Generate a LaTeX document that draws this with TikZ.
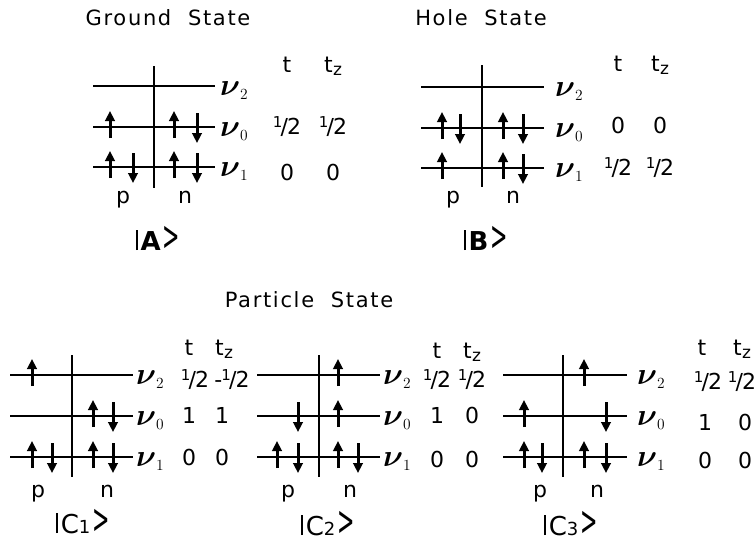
\RequirePackage{fix-cm}
\documentclass[tikz,border=0pt]{standalone}
\usepackage{amsmath}
\usepackage{fontspec}
\setmainfont{DejaVu Sans}
\usetikzlibrary{arrows.meta}
\newcommand\hf{\raisebox{0.55ex}{\fontsize{15}{15}\selectfont 1}\kern-0.08em/\kern-0.04em2}
\newcommand\tz{t\kern0.02em\raisebox{-0.25ex}{\fontsize{17}{17}\selectfont z}}
\newcommand\ketx[1]{\rule{1.7pt}{20pt}\kern3pt{#1}\kern2pt\scalebox{0.8}[1.6]{\textgreater}}
\newcommand\nl[1]{$\boldsymbol{\nu}_{\scriptscriptstyle #1}$}
\newcommand\upsp[2]{\draw[spin] (#1,#2+11) -- (#1,#2-16);}
\newcommand\dnsp[2]{\draw[spin] (#1,#2-14) -- (#1,#2+16);}
\tikzset{
  x=1pt, y=-1pt,
  level/.style={line width=2.6pt},
  divider/.style={line width=2.4pt},
  spin/.style={line width=3pt, -{Triangle[length=10pt,width=9.5pt]}},
  txt/.style={font=\fontsize{22}{22}\selectfont, inner sep=0pt, anchor=base},
  title/.style={font=\addfontfeature{LetterSpace=8}\fontsize{21}{21}\selectfont, inner sep=0pt, anchor=base},
  nulab/.style={font=\fontsize{31}{31}\selectfont, inner sep=0pt, anchor=base west},
  ket/.style={font=\fontsize{26}{26}\selectfont, inner sep=0pt, anchor=base},
}
\begin{document}
\begin{tikzpicture}
\useasboundingbox[fill=white] (0,0) rectangle (756,550);

% ---------- Panel A ----------
\node[title] (tA) at (168,25) {Ground\ \ State};
\draw[level] (93,86) -- (215,86);
\draw[level] (93,127) -- (215,127);
\draw[level] (93,167) -- (215,167);
\draw[divider] (154,66) -- (154,188);
\node[nulab] (A2) at (220,95) {\nl{2}};
\node[nulab] (A0) at (220,136) {\nl{0}};
\node[nulab] (A1) at (220,176) {\nl{1}};
\upsp{110}{127} \upsp{174}{127} \dnsp{197}{127}
\upsp{110}{167} \dnsp{133}{167} \upsp{174}{167} \dnsp{197}{167}
\node[txt] (At) at (287,72) {t};
\node[txt] (Atz) at (333,72) {\tz};
\node[txt] (Av1) at (287,134) {\hf};
\node[txt] (Av2) at (333,134) {\hf};
\node[txt] (Av3) at (287,180) {0};
\node[txt] (Av4) at (333,180) {0};
\node[txt] (Ap) at (123,203) {p};
\node[txt] (An) at (185,203) {n};
\node[ket] (Ak) at (158,250) {\ketx{\bfseries A}};

% ---------- Panel B ----------
\node[title] (tB) at (481,25) {Hole\ \ State};
\draw[level] (421,87) -- (544,87);
\draw[level] (421,128) -- (544,128);
\draw[level] (421,168) -- (544,168);
\draw[divider] (482,65) -- (482,187);
\node[nulab] (B2) at (555,96) {\nl{2}};
\node[nulab] (B0) at (555,137) {\nl{0}};
\node[nulab] (B1) at (555,177) {\nl{1}};
\upsp{442}{128} \dnsp{460}{128} \upsp{503}{128} \dnsp{523}{128}
\upsp{442}{168} \upsp{503}{168} \dnsp{523}{168}
\node[txt] (Bt) at (618,71) {t};
\node[txt] (Btz) at (660,71) {\tz};
\node[txt] (Bv1) at (618,133) {0};
\node[txt] (Bv2) at (660,133) {0};
\node[txt] (Bv3) at (618,175) {\hf};
\node[txt] (Bv4) at (660,175) {\hf};
\node[txt] (Bp) at (453,203) {p};
\node[txt] (Bn) at (513,203) {n};
\node[ket] (Bk) at (486,250) {\ketx{\bfseries B}};

% ---------- Particle State ----------
\node[title] (tC) at (309,307) {Particle\ \ State};

% C1
\draw[level] (10,375) -- (133,375);
\draw[level] (10,416) -- (133,416);
\draw[level] (10,457) -- (133,457);
\draw[divider] (72,355) -- (72,477);
\node[nulab] (C12) at (136,384) {\nl{2}};
\node[nulab] (C10) at (136,425) {\nl{0}};
\node[nulab] (C11) at (136,466) {\nl{1}};
\upsp{32}{375}
\upsp{93}{416} \dnsp{113}{416}
\upsp{32}{457} \dnsp{52}{457} \upsp{93}{457} \dnsp{113}{457}
\node[txt] (C1t) at (189,355) {t};
\node[txt] (C1tz) at (224,355) {\tz};
\node[txt] (C1v1) at (195,387) {\hf};
\node[txt] (C1v2) at (232,387) {-\kern-0.05em\hf};
\node[txt] (C1v3) at (189,423) {1};
\node[txt] (C1v4) at (222,423) {1};
\node[txt] (C1v5) at (189,465) {0};
\node[txt] (C1v6) at (222,465) {0};
\node[txt] (C1p) at (38,497) {p};
\node[txt] (C1n) at (107,497) {n};
\node[ket] (C1k) at (83,533) {\ketx{C{\fontsize{18}{18}\selectfont 1}}};

% C2
\draw[level] (257,375) -- (380,375);
\draw[level] (257,416) -- (380,416);
\draw[level] (257,457) -- (380,457);
\draw[divider] (319,355) -- (319,477);
\node[nulab] (C22) at (383,384) {\nl{2}};
\node[nulab] (C20) at (383,425) {\nl{0}};
\node[nulab] (C21) at (383,466) {\nl{1}};
\upsp{338}{375}
\dnsp{298}{416} \upsp{338}{416}
\upsp{277}{457} \dnsp{298}{457} \upsp{338}{457} \dnsp{358}{457}
\node[txt] (C2t) at (437,358) {t};
\node[txt] (C2tz) at (472,358) {\tz};
\node[txt] (C2v1) at (437,387) {\hf};
\node[txt] (C2v2) at (472,387) {\hf};
\node[txt] (C2v3) at (437,423) {1};
\node[txt] (C2v4) at (472,423) {0};
\node[txt] (C2v5) at (437,467) {0};
\node[txt] (C2v6) at (472,467) {0};
\node[txt] (C2p) at (288,497) {p};
\node[txt] (C2n) at (350,497) {n};
\node[ket] (C2k) at (328,535) {\ketx{C{\fontsize{18}{18}\selectfont 2}}};

% C3
\draw[level] (503,375) -- (627,375);
\draw[level] (503,416) -- (627,416);
\draw[level] (503,457) -- (627,457);
\draw[divider] (563,355) -- (563,477);
\node[nulab] (C32) at (637,384) {\nl{2}};
\node[nulab] (C30) at (637,425) {\nl{0}};
\node[nulab] (C31) at (637,466) {\nl{1}};
\upsp{584}{375}
\upsp{524}{416} \dnsp{606}{416}
\upsp{524}{457} \dnsp{542}{457} \upsp{584}{457} \dnsp{606}{457}
\node[txt] (C3t) at (702,355) {t};
\node[txt] (C3tz) at (742,355) {\tz};
\node[txt] (C3v1) at (708,389) {\hf};
\node[txt] (C3v2) at (742,389) {\hf};
\node[txt] (C3v3) at (705,430) {1};
\node[txt] (C3v4) at (745,430) {0};
\node[txt] (C3v5) at (705,468) {0};
\node[txt] (C3v6) at (745,468) {0};
\node[txt] (C3p) at (540,497) {p};
\node[txt] (C3n) at (597,497) {n};
\node[ket] (C3k) at (571,535) {\ketx{C{\fontsize{18}{18}\selectfont 3}}};
\end{tikzpicture}
\end{document}
